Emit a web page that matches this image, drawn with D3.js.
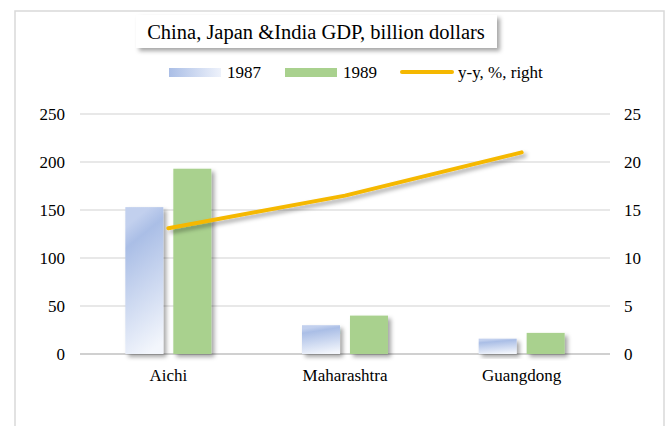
<!DOCTYPE html>
<html>
<head>
<meta charset="utf-8">
<script src="https://cdn.jsdelivr.net/npm/d3@7"></script>
<style>
  body { margin: 0; background: #fff; }
  text { font-family: "Liberation Serif", "Times New Roman", serif; fill: #000; }
</style>
</head>
<body>
<svg id="svg" width="669" height="426"></svg>
<script>
// chart data
var categories = ["Aichi", "Maharashtra", "Guangdong"]
var seriesNames = ["1987", "1989"]
var gdp1987 = [153, 30, 16]
var gdp1989 = [193, 40, 22]
var yoy = [13.1, 16.5, 21]
var leftTicks = [0, 50, 100, 150, 200, 250]
var rightTicks = [0, 5, 10, 15, 20, 25]
var title = "China, Japan &India GDP, billion dollars"
var lineName = "y-y, %, right"

var svg = d3.select("#svg")
var defs = svg.append("defs")

// soft shadow like the office chart
var shadow = defs.append("filter").attr("id", "shadow")
    .attr("x", "-20%").attr("y", "-20%").attr("width", "150%").attr("height", "150%")
shadow.append("feDropShadow")
    .attr("dx", 3).attr("dy", 3).attr("stdDeviation", 2)
    .attr("flood-color", "#000").attr("flood-opacity", 0.35)

var grad = defs.append("linearGradient").attr("id", "blueGrad")
    .attr("x1", 0.4).attr("y1", 0.05).attr("x2", 0.6).attr("y2", 1)
grad.append("stop").attr("offset", "0%").attr("stop-color", "#c2d0ee")
grad.append("stop").attr("offset", "15%").attr("stop-color", "#aabee6")
grad.append("stop").attr("offset", "100%").attr("stop-color", "#f3f6fc")

var legendGrad = defs.append("linearGradient").attr("id", "blueLegend")
legendGrad.append("stop").attr("offset", "0%").attr("stop-color", "#aabee6")
legendGrad.append("stop").attr("offset", "100%").attr("stop-color", "#eef2fb")

// outer chart border
svg.append("rect")
    .attr("x", 15).attr("y", 11).attr("width", 649).attr("height", 430)
    .attr("fill", "#fff").attr("stroke", "#d9d9d9").attr("stroke-width", 1.5)

var plot = { left: 80, right: 610, top: 114, bottom: 354 }

var x = d3.scaleBand().domain(categories).range([plot.left, plot.right])
var yLeft = d3.scaleLinear().domain([0, 250]).range([plot.bottom, plot.top])
var yRight = d3.scaleLinear().domain([0, 25]).range([plot.bottom, plot.top])

// grid
svg.append("g").selectAll("line")
    .data(leftTicks)
    .enter().append("line")
    .attr("x1", plot.left).attr("x2", plot.right)
    .attr("y1", d => yLeft(d)).attr("y2", d => yLeft(d))
    .attr("stroke", d => d === 0 ? "#d0d0d0" : "#e0e0e0")
    .attr("stroke-width", d => d === 0 ? 2 : 1.5)

// left axis labels
svg.append("g").selectAll("text")
    .data(leftTicks)
    .enter().append("text")
    .attr("x", 65).attr("y", d => yLeft(d))
    .attr("dy", "0.35em").attr("text-anchor", "end")
    .attr("font-size", 17)
    .text(d => d)

// right axis labels
svg.append("g").selectAll("text")
    .data(rightTicks)
    .enter().append("text")
    .attr("x", 624).attr("y", d => yRight(d))
    .attr("dy", "0.35em").attr("text-anchor", "start")
    .attr("font-size", 17)
    .text(d => d)

// category labels
svg.append("g").selectAll("text")
    .data(categories)
    .enter().append("text")
    .attr("x", d => x(d) + x.bandwidth() / 2).attr("y", 375)
    .attr("dy", "0.35em").attr("text-anchor", "middle")
    .attr("font-size", 17)
    .text(d => d)

// bars
var groupWidth = 86
var x1 = d3.scaleBand().domain(seriesNames).range([0, groupWidth]).paddingInner(0.208)
var fills = { "1987": "url(#blueGrad)", "1989": "#a9d18e" }
var rows = categories.map((c, i) => ({
    key: c,
    values: [{ s: "1987", v: gdp1987[i] }, { s: "1989", v: gdp1989[i] }]
}))

var groups = svg.append("g").selectAll(".grp")
    .data(rows)
    .enter().append("g")
    .attr("class", "grp")
    .attr("transform", d => "translate(" + (x(d.key) + x.bandwidth() / 2 - groupWidth / 2) + ",0)")

groups.selectAll("rect")
    .data(d => d.values)
    .enter().append("rect")
    .attr("x", d => x1(d.s))
    .attr("y", d => yLeft(d.v))
    .attr("width", x1.bandwidth())
    .attr("height", d => yLeft(0) - yLeft(d.v))
    .attr("fill", d => fills[d.s])
    .attr("filter", "url(#shadow)")

// y-y line
var line = d3.line()
    .x((d, i) => x(categories[i]) + x.bandwidth() / 2)
    .y(d => yRight(d))

svg.append("path")
    .datum(yoy)
    .attr("d", line)
    .attr("fill", "none")
    .attr("stroke", "#f5b800")
    .attr("stroke-width", 4)
    .attr("stroke-linecap", "round")
    .attr("stroke-linejoin", "round")
    .attr("filter", "url(#shadow)")

// title box
svg.append("rect")
    .attr("x", 136).attr("y", 15).attr("width", 361).attr("height", 33)
    .attr("fill", "#fff").attr("filter", "url(#shadow)")
svg.append("text")
    .attr("x", 316).attr("y", 39)
    .attr("text-anchor", "middle")
    .attr("font-size", 20.5)
    .text(title)

// legend
var legend = svg.append("g")
legend.append("rect").attr("x", 169).attr("y", 68).attr("width", 52).attr("height", 9)
    .attr("fill", "url(#blueLegend)")
legend.append("text").attr("x", 227).attr("y", 72).attr("dy", "0.35em")
    .attr("font-size", 17).text(seriesNames[0])
legend.append("rect").attr("x", 285).attr("y", 68).attr("width", 52).attr("height", 9)
    .attr("fill", "#a9d18e")
legend.append("text").attr("x", 343).attr("y", 72).attr("dy", "0.35em")
    .attr("font-size", 17).text(seriesNames[1])
legend.append("line").attr("x1", 402).attr("x2", 452).attr("y1", 72).attr("y2", 72)
    .attr("stroke", "#f5b800").attr("stroke-width", 4).attr("stroke-linecap", "round")
legend.append("text").attr("x", 458).attr("y", 72).attr("dy", "0.35em")
    .attr("font-size", 17).text(lineName)
</script>
</body>
</html>
